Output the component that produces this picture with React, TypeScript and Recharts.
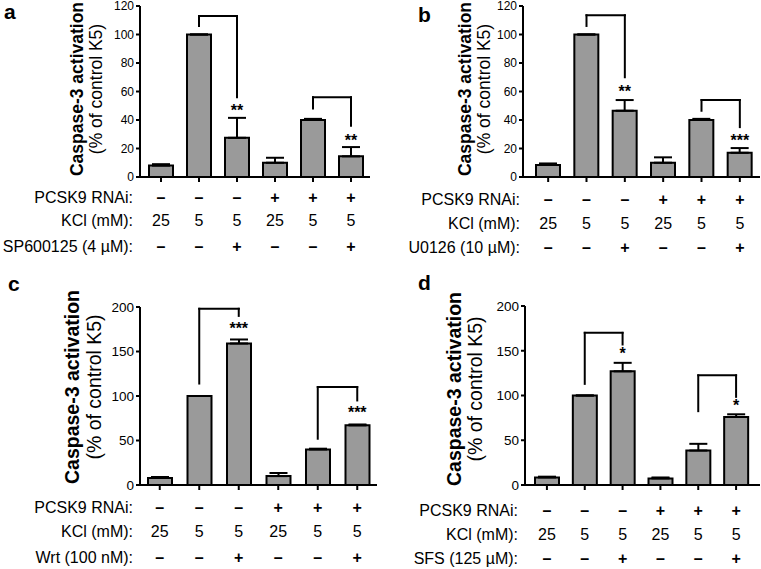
import React from 'react';
import { ComposedChart, Bar, XAxis, YAxis, ErrorBar, ReferenceLine, ReferenceDot } from 'recharts';

const FONT = '"Liberation Sans", Arial, Helvetica, sans-serif';

// six conditions, same in every panel
const groups = ['g1', 'g2', 'g3', 'g4', 'g5', 'g6'];
const pcsk9Row = ['–', '–', '–', '+', '+', '+'];
const kclRow = ['25', '5', '5', '25', '5', '5'];
const drugRow = ['–', '–', '+', '–', '–', '+'];
const rowNames = ['PCSK9 RNAi:', 'KCl (mM):'];
const yTitle = ['Caspase-3 activation', '(% of control K5)'];

// a - SP600125
const aValues = [8, 100, 27.5, 10, 40, 14.5];
const aErrors = [1, 0, 14, 3.5, 0.8, 6.5];
const aTicks = [0, 20, 40, 60, 80, 100, 120];
const aBrackets = [
  { from: 'g2', to: 'g3', top: 113, fromEnd: 106, toEnd: 56 },
  { from: 'g5', to: 'g6', top: 56, fromEnd: 48, toEnd: 36 },
];
const aStars = [
  { at: 'g3', y: 47, text: '**' },
  { at: 'g6', y: 26, text: '**' },
];

// b - U0126
const bValues = [8.5, 100, 46.5, 10, 40, 17];
const bErrors = [1, 0, 7.5, 3.8, 0.8, 3.3];
const bTicks = [0, 20, 40, 60, 80, 100, 120];
const bBrackets = [
  { from: 'g2', to: 'g3', top: 113.5, fromEnd: 106, toEnd: 70 },
  { from: 'g5', to: 'g6', top: 54, fromEnd: 46.5, toEnd: 35 },
];
const bStars = [
  { at: 'g3', y: 60, text: '**' },
  { at: 'g6', y: 26, text: '***' },
];

// c - wortmannin
const cValues = [8, 100, 159, 10, 40, 67];
const cErrors = [1, 0, 4.5, 3.5, 0.8, 1];
const cTicks = [0, 50, 100, 150, 200];
const cBrackets = [
  { from: 'g2', to: 'g3', top: 198, fromEnd: 114, toEnd: 190 },
  { from: 'g5', to: 'g6', top: 110, fromEnd: 52, toEnd: 95 },
];
const cStars = [
  { at: 'g3', y: 176, text: '***' },
  { at: 'g6', y: 81.5, text: '***' },
];

// d - SFS
const dValues = [8.5, 100, 127, 7.4, 38.5, 76];
const dErrors = [0.8, 0, 9.5, 1, 7.5, 3];
const dTicks = [0, 50, 100, 150, 200];
const dBrackets = [
  { from: 'g2', to: 'g3', top: 170, fromEnd: 113, toEnd: 157 },
  { from: 'g5', to: 'g6', top: 122.5, fromEnd: 82.5, toEnd: 98.5 },
];
const dStars = [
  { at: 'g3', y: 147, text: '*' },
  { at: 'g6', y: 88.5, text: '*' },
];

const panels = [
  {
    letter: 'a', letterPos: [4, 19], drug: 'SP600125 (4 µM):',
    values: aValues, errors: aErrors, ticks: aTicks, brackets: aBrackets, stars: aStars,
    left: 0, top: 0, width: 380, height: 285, axisX: 140, plotRight: 370, plotTop: 6, axisY: 177,
    pad: { left: 2, right: 0 }, tickFont: 12, rowY: [203, 226, 252], headerRight: 133,
    titleX: [82.5, 102], titleY: 89, titleFont: 17.5,
  },
  {
    letter: 'b', letterPos: [418, 22], drug: 'U0126 (10 µM):',
    values: bValues, errors: bErrors, ticks: bTicks, brackets: bBrackets, stars: bStars,
    left: 380, top: 0, width: 381, height: 285, axisX: 523, plotRight: 760, plotTop: 6, axisY: 177,
    pad: { left: 6, right: 1 }, tickFont: 12, rowY: [205, 229, 253], headerRight: 520,
    titleX: [470.5, 490], titleY: 89, titleFont: 17.5,
  },
  {
    letter: 'c', letterPos: [8, 291], drug: 'Wrt (100 nM):',
    values: cValues, errors: cErrors, ticks: cTicks, brackets: cBrackets, stars: cStars,
    left: 0, top: 285, width: 380, height: 284, axisX: 140, plotRight: 377, plotTop: 307, axisY: 485,
    pad: { left: 0, right: 0 }, tickFont: 13.5, rowY: [513, 537, 563], headerRight: 133,
    titleX: [79, 101], titleY: 387, titleFont: 19.5,
  },
  {
    letter: 'd', letterPos: [418, 290], drug: 'SFS (125 µM):',
    values: dValues, errors: dErrors, ticks: dTicks, brackets: dBrackets, stars: dStars,
    left: 380, top: 285, width: 381, height: 284, axisX: 525, plotRight: 760, plotTop: 306, axisY: 485,
    pad: { left: 3, right: 5 }, tickFont: 13.5, rowY: [516, 540, 564], headerRight: 518,
    titleX: [461, 482], titleY: 389, titleFont: 19.5,
  },
];

const line = { stroke: '#000', strokeWidth: 2 };

const RowTick = (props: any) => {
  const { x, payload, cfg } = props;
  const i = groups.indexOf(payload.value);
  const ys = cfg.rowY.map((v: number) => v - cfg.top);
  return (
    <g>
      <text x={x} y={ys[0]} textAnchor="middle" fontSize={16} fontWeight="bold" fill="#000">{pcsk9Row[i]}</text>
      <text x={x} y={ys[1]} textAnchor="middle" fontSize={16} fill="#000">{kclRow[i]}</text>
      <text x={x} y={ys[2]} textAnchor="middle" fontSize={16} fontWeight="bold" fill="#000">{drugRow[i]}</text>
    </g>
  );
};

const Panel = ({ cfg }: { cfg: any }) => {
  const data = groups.map((g, i) => ({ group: g, value: cfg.values[i], err: [0, cfg.errors[i]] }));
  const axisLocal = cfg.axisY - cfg.top;
  return (
    <div style={{ position: 'absolute', left: cfg.left, top: cfg.top }}>
      <ComposedChart
        width={cfg.width}
        height={cfg.height}
        data={data}
        margin={{ top: cfg.plotTop - cfg.top, right: cfg.left + cfg.width - cfg.plotRight, bottom: 0, left: 0 }}
      >
        <XAxis
          dataKey="group"
          height={cfg.height - axisLocal}
          interval={0}
          padding={cfg.pad}
          axisLine={line}
          tickLine={line}
          tickSize={5}
          tickMargin={0}
          tick={(p: any) => <RowTick {...p} cfg={cfg} />}
        />
        <YAxis
          width={cfg.axisX - cfg.left}
          domain={[0, cfg.ticks[cfg.ticks.length - 1]]}
          ticks={cfg.ticks}
          interval={0}
          axisLine={line}
          tickLine={line}
          tickSize={4}
          tickMargin={2}
          tick={{ fill: '#000', fontSize: cfg.tickFont }}
        />
        <Bar dataKey="value" fill="#9a9a9a" stroke="#000" strokeWidth={2} barSize={24} isAnimationActive={false}>
          <ErrorBar dataKey="err" direction="y" width={9} stroke="#000" strokeWidth={2} isAnimationActive={false} />
        </Bar>
        {cfg.brackets.map((b: any, k: number) => [
          <ReferenceLine key={`bl${k}`} segment={[{ x: b.from, y: b.fromEnd }, { x: b.from, y: b.top }]} stroke="#000" strokeWidth={2} strokeLinecap="square" />,
          <ReferenceLine key={`bt${k}`} segment={[{ x: b.from, y: b.top }, { x: b.to, y: b.top }]} stroke="#000" strokeWidth={2} strokeLinecap="square" />,
          <ReferenceLine key={`br${k}`} segment={[{ x: b.to, y: b.top }, { x: b.to, y: b.toEnd }]} stroke="#000" strokeWidth={2} strokeLinecap="square" />,
        ])}
        {cfg.stars.map((s: any, k: number) => (
          <ReferenceDot
            key={`s${k}`}
            x={s.at}
            y={s.y}
            r={0}
            fill="none"
            stroke="none"
            ifOverflow="visible"
            label={{ value: s.text, position: 'center', fontSize: 16, fontWeight: 'bold', fill: '#000' }}
          />
        ))}
      </ComposedChart>
    </div>
  );
};

export default function App() {
  return (
    <div style={{ position: 'absolute', left: 0, top: 0, width: 761, height: 569, background: '#fff', fontFamily: FONT }}>
      {panels.map((cfg) => (
        <Panel key={cfg.letter} cfg={cfg} />
      ))}
      <svg width={761} height={569} style={{ position: 'absolute', left: 0, top: 0, pointerEvents: 'none' }} fontFamily={FONT}>
        {panels.map((cfg) => (
          <g key={cfg.letter}>
            <text x={cfg.letterPos[0]} y={cfg.letterPos[1]} fontSize={21} fontWeight="bold" fill="#000">{cfg.letter}</text>
            <text
              transform={`translate(${cfg.titleX[0]},${cfg.titleY}) rotate(-90)`}
              textAnchor="middle"
              fontSize={cfg.titleFont}
              fontWeight="bold"
              fill="#000"
            >
              {yTitle[0]}
            </text>
            <text
              transform={`translate(${cfg.titleX[1]},${cfg.titleY}) rotate(-90)`}
              textAnchor="middle"
              fontSize={cfg.titleFont}
              fill="#000"
            >
              {yTitle[1]}
            </text>
            {[rowNames[0], rowNames[1], cfg.drug].map((name, k) => (
              <text key={k} x={cfg.headerRight} y={cfg.rowY[k]} textAnchor="end" fontSize={16} fill="#000">{name}</text>
            ))}
          </g>
        ))}
      </svg>
    </div>
  );
}
